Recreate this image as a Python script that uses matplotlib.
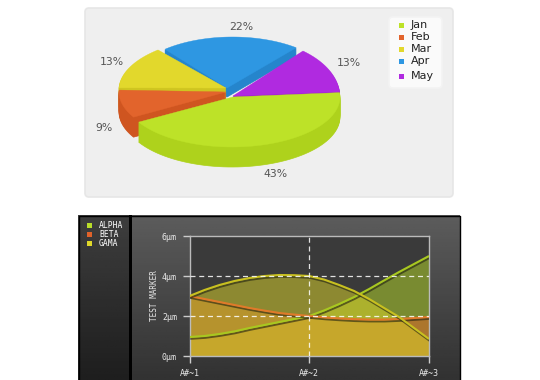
import numpy as np
import matplotlib
matplotlib.use('Agg')
import matplotlib.pyplot as plt
import matplotlib.patheffects as pe
from matplotlib.patches import FancyBboxPatch, Polygon, Rectangle

# pie data
pie_labels = ['Jan', 'Feb', 'Mar', 'Apr', 'May']
pie_values = [43, 9, 13, 22, 13]
pie_colors = ['#bde228', '#e2642c', '#e2d82c', '#2e97e2', '#b02ae0']
pie_sides = ['#aed21c', '#cf5520', '#cfc520', '#2585cc', '#9a20c8']

# line chart data, read at eighth steps between the categories
x_pos = [0, 0.125, 0.25, 0.375, 0.5, 0.625, 0.75, 0.875, 1,
         1.125, 1.25, 1.375, 1.5, 1.625, 1.75, 1.875, 2]
alpha_vals = [0.95, 1.0, 1.1, 1.23, 1.4, 1.55, 1.7, 1.85, 2.0,
              2.28, 2.6, 2.95, 3.35, 3.78, 4.2, 4.6, 5.0]
beta_vals = [3.0, 2.85, 2.7, 2.55, 2.4, 2.27, 2.15, 2.07, 2.0,
             1.93, 1.88, 1.84, 1.82, 1.82, 1.85, 1.9, 1.95]
gama_vals = [3.0, 3.3, 3.55, 3.75, 3.9, 4.0, 4.05, 4.04, 4.0,
             3.82, 3.55, 3.25, 2.85, 2.4, 1.95, 1.4, 0.85]
series_names = ['ALPHA', 'BETA', 'GAMA']
series_colors = ['#b9dd2a', '#e0622a', '#e0d82a']
x_labels = ['A#~1', 'A#~2', 'A#~3']
y_ticks = [0, 2, 4, 6]
y_labels = ['0µm', '2µm', '4µm', '6µm']

W, H = 540, 380
fig = plt.figure(figsize=(W / 100, H / 100), dpi=100, facecolor='white')

# whole figure axes in pixels
bg = fig.add_axes([0, 0, 1, 1])
bg.set_xlim(0, W)
bg.set_ylim(H, 0)
bg.axis('off')


def round_box(x0, y0, x1, y1, face, edge, r=4, z=1):
    bg.add_patch(FancyBboxPatch((x0 + r, y0 + r), x1 - x0 - 2 * r, y1 - y0 - 2 * r,
                                boxstyle='round,pad=%d,rounding_size=%d' % (r, r),
                                fc=face, ec=edge, lw=1.2, zorder=z))


def gradient(x0, y0, x1, y1, top, bottom, z=1):
    g = np.linspace(top, bottom, 64).reshape(-1, 1)
    bg.imshow(g, extent=[x0, x1, y1, y0], cmap='gray', vmin=0, vmax=255,
              aspect='auto', zorder=z)


round_box(85, 8, 453, 197, '#efefef', '#e6e6e6')
round_box(389, 17, 442, 88, '#fafafa', '#f3f3f3', z=2)

# ---- pie ----
# each slice gets its own arc, the picture is not a clean ellipse
arc_centers = [(232, 97), (226, 92), (232.6, 89.8), (232.5, 87), (243, 97)]
arc_rx = [108, 107, 113.7, 103, 97]
arc_ry = [50, 50, 52.8, 50, 58.5]
apex = [(233, 97), (226, 92), (226, 88), (227, 88), (233, 96)]
depths = [20, 20, 20, 9, 20]
draw_order = [3, 2, 4, 1, 0]
start = 5
bounds = [start]
for v in pie_values:
    bounds.append(bounds[-1] - v / sum(pie_values) * 360)


def slice_points(i, shift=0):
    cx, cy = arc_centers[i]
    a = np.radians(np.linspace(bounds[i], bounds[i + 1], 60))
    xs = np.r_[apex[i][0], cx + arc_rx[i] * np.cos(a)]
    ys = np.r_[apex[i][1], cy - arc_ry[i] * np.sin(a)] + shift
    return np.c_[xs, ys]


z = 3
for i in draw_order:
    for d in range(depths[i], 0, -1):
        bg.add_patch(Polygon(slice_points(i, d), closed=True, fc=pie_sides[i],
                             ec=pie_sides[i], lw=0.5, zorder=z))
    bg.add_patch(Polygon(slice_points(i), closed=True, fc=pie_colors[i],
                         ec=pie_colors[i], lw=0.3, zorder=z + 0.5))
    z += 1

pct_pos = [(275, 174), (104, 128), (112, 62), (241, 27), (349, 63)]
for v, (px, py) in zip(pie_values, pct_pos):
    bg.text(px, py, '%d%%' % v, fontsize=7.8, color='#555555', ha='center', va='center', zorder=20)

legend_y = [25, 37, 49, 61, 76]
for name, c, ly in zip(pie_labels, pie_colors, legend_y):
    bg.add_patch(Rectangle((399, ly - 2.5), 5, 5, fc=c, ec='none', zorder=20))
    bg.text(411, ly, name, fontsize=8, color='#222222', va='center', zorder=20)

# ---- dark panel ----
gradient(78, 215, 132, 380, 62, 30, z=1)
gradient(132, 215, 460, 380, 92, 50, z=1)
bg.add_patch(Rectangle((129, 215), 3, 165, fc='black', ec='none', zorder=2))
bg.plot([78.5, 78.5, 459.5, 459.5], [380, 215.5, 215.5, 380], color='black', lw=1, zorder=3)
bg.set_xlim(0, W)
bg.set_ylim(H, 0)

for name, c, ly in zip(series_names, series_colors, [225.5, 234.5, 243.5]):
    bg.add_patch(Rectangle((87, ly - 2.5), 5, 5, fc=c, ec='none', zorder=5))
    bg.text(99, ly, name, fontsize=5.8, color='white', family='DejaVu Sans Mono',
            va='center', zorder=5)

# ---- line chart ----
ax = fig.add_axes([189.5 / W, 1 - 356 / H, (429 - 189.5) / W, 120 / H], facecolor='#3a3a3a')
ax.set_xlim(0, 2)
ax.set_ylim(0, 6)

for vals, c in zip([alpha_vals, beta_vals, gama_vals], series_colors):
    ax.fill_between(x_pos, vals, 0, color=c, alpha=0.5, lw=0, zorder=2)
for vals, c in zip([alpha_vals, beta_vals, gama_vals], ['#a8c820', '#e07a2a', '#c8c020']):
    ax.plot(x_pos, vals, color=c, lw=1.5, zorder=4, solid_capstyle='butt',
            path_effects=[pe.SimpleLineShadow(offset=(0.5, -1.3), shadow_color='#202010', alpha=0.6),
                          pe.Normal()])

ax.hlines([2, 4], 0, 2, color='white', lw=0.9, ls=(0, (4, 3)), alpha=0.85, zorder=5)
ax.vlines([1], 0, 6, color='white', lw=0.9, ls=(0, (4, 3)), alpha=0.85, zorder=5)

for s in ax.spines.values():
    s.set_color('#bbbbbb')
    s.set_linewidth(1)
ax.set_xticks([0, 1, 2])
ax.set_xticklabels(x_labels)
ax.set_yticks(y_ticks)
ax.set_yticklabels(y_labels)
ax.tick_params(length=5, width=1, color='#cccccc', labelcolor='#e8e8e8', labelsize=6, pad=4)
for t in ax.get_xticklabels() + ax.get_yticklabels():
    t.set_family('DejaVu Sans Mono')
ax.set_ylabel('TEST MARKER', fontsize=5.5, color='#e8e8e8', family='DejaVu Sans Mono', labelpad=2)

fig.savefig('out.png', dpi=100)
